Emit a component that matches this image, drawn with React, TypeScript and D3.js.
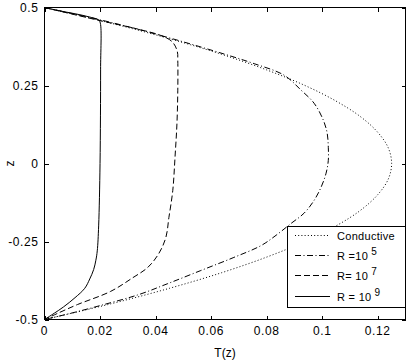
import React from "react";
import * as d3 from "d3";

const xTicks = [0, 0.02, 0.04, 0.06, 0.08, 0.1, 0.12];
const xTickLabels = ["0", "0.02", "0.04", "0.06", "0.08", "0.1", "0.12"];
const yTicks = [-0.5, -0.25, 0, 0.25, 0.5];
const yTickLabels = ["-0.5", "-0.25", "0", "0.25", "0.5"];

// Conductive profile (z, T)
const condZ = [0.5, 0.45, 0.4, 0.35, 0.3, 0.25, 0.2, 0.15, 0.1, 0.05, 0, -0.05, -0.1, -0.15, -0.2, -0.25, -0.3, -0.35, -0.4, -0.45, -0.5];
const condT = [0, 0.0238, 0.045, 0.0638, 0.08, 0.0938, 0.105, 0.1138, 0.12, 0.1238, 0.125, 0.1238, 0.12, 0.1138, 0.105, 0.0938, 0.08, 0.0638, 0.045, 0.0238, 0];

// R = 1e5
const r5Z = [0.5, 0.45, 0.4, 0.35, 0.32, 0.283, 0.235, 0.193, 0.139, 0.097, 0.052, 0.01, -0.031, -0.076, -0.118, -0.159, -0.192, -0.23, -0.263, -0.301, -0.343, -0.385, -0.42, -0.455, -0.48, -0.5];
const r5T = [0, 0.025, 0.046, 0.065, 0.0755, 0.0863, 0.0924, 0.0971, 0.1004, 0.1018, 0.1022, 0.1022, 0.1014, 0.0996, 0.0971, 0.0935, 0.0888, 0.0834, 0.078, 0.0682, 0.0563, 0.0444, 0.034, 0.0202, 0.0095, 0];

// R = 1e7
const r7Z = [0.5, 0.46, 0.43, 0.41, 0.39, 0.36, 0.33, 0.235, 0.129, 0.02, -0.086, -0.173, -0.237, -0.288, -0.333, -0.366, -0.41, -0.452, -0.48, -0.5];
const r7T = [0, 0.019, 0.034, 0.042, 0.046, 0.0478, 0.048, 0.048, 0.0477, 0.047, 0.0462, 0.0448, 0.0437, 0.0412, 0.0372, 0.0318, 0.0238, 0.0119, 0.0048, 0];

// R = 1e9
const r9Z = [0.5, 0.49, 0.48, 0.47, 0.46, 0.45, 0.3, 0, -0.2, -0.28, -0.31, -0.34, -0.37, -0.4, -0.43, -0.46, -0.48, -0.5];
const r9T = [0, 0.005, 0.011, 0.016, 0.0195, 0.0201, 0.0202, 0.02, 0.0195, 0.019, 0.0185, 0.0177, 0.0163, 0.0145, 0.011, 0.0068, 0.0035, 0];

const seriesNames = ["Conductive", "R =10", "R= 10", "R = 10"];
const seriesExps = ["", "5", "7", "9"];
const dashes = ["1,2.2", "6,2.5,1,2.5", "6,3", ""];

const W = 410, H = 364;
const L = 44.5, R = 405.5, T = 7.5, B = 319.5;
const font = "'Liberation Sans', Arial, Helvetica, sans-serif";

export default function App() {
  const x = d3.scaleLinear().domain([0, 0.13]).range([L, R]);
  const y = d3.scaleLinear().domain([-0.5, 0.5]).range([B, T]);
  const line = d3
    .line<[number, number]>()
    .x((d) => x(d[0]))
    .y((d) => y(d[1]))
    .curve(d3.curveCatmullRom.alpha(0.5));
  const series = [
    condZ.map((z, i) => [condT[i], z] as [number, number]),
    r5Z.map((z, i) => [r5T[i], z] as [number, number]),
    r7Z.map((z, i) => [r7T[i], z] as [number, number]),
    r9Z.map((z, i) => [r9T[i], z] as [number, number]),
  ];
  const lgL = 287.5, lgT = 226.5, lgR = R, lgB = 307.5;
  const rowY = [235.5, 255.5, 275.5, 296.5];
  return (
    <svg width={W} height={H} style={{ position: "absolute", left: 0, top: 0, background: "#fff" }} fontFamily={font}>
      <rect x={0} y={0} width={W} height={H} fill="#fff" />
      <defs>
        <clipPath id="plot">
          <rect x={L} y={T} width={R - L} height={B - T} />
        </clipPath>
      </defs>
      <g clipPath="url(#plot)">
        {series.map((s, i) => (
          <path key={i} d={line(s) || ""} fill="none" stroke="#000" strokeWidth={1} strokeDasharray={dashes[i] || undefined} />
        ))}
      </g>
      {/* axes box */}
      <rect x={L} y={T} width={R - L} height={B - T} fill="none" stroke="#000" strokeWidth={1} shapeRendering="crispEdges" />
      {xTicks.map((t, i) => (
        <g key={"x" + i}>
          <line x1={Math.round(x(t)) + 0.5} x2={Math.round(x(t)) + 0.5} y1={B} y2={B - 4} stroke="#000" shapeRendering="crispEdges" />
          <line x1={Math.round(x(t)) + 0.5} x2={Math.round(x(t)) + 0.5} y1={T} y2={T + 4} stroke="#000" shapeRendering="crispEdges" />
          <text x={x(t)} y={B + 15} fontSize={12} letterSpacing={0.6} textAnchor="middle">{xTickLabels[i]}</text>
        </g>
      ))}
      {yTicks.map((t, i) => (
        <g key={"y" + i}>
          <line x1={L} x2={L + 4} y1={Math.round(y(t)) + 0.5} y2={Math.round(y(t)) + 0.5} stroke="#000" shapeRendering="crispEdges" />
          <line x1={R} x2={R - 4} y1={Math.round(y(t)) + 0.5} y2={Math.round(y(t)) + 0.5} stroke="#000" shapeRendering="crispEdges" />
          <text x={L - 6} y={y(t) + 4} fontSize={12} letterSpacing={0.6} textAnchor="end">{yTickLabels[i]}</text>
        </g>
      ))}
      <text x={(L + R) / 2} y={357} fontSize={12} textAnchor="middle">T(z)</text>
      <text transform={`translate(14,${(T + B) / 2}) rotate(-90)`} fontSize={12} textAnchor="middle">z</text>
      {/* legend */}
      <rect x={lgL} y={lgT} width={lgR - lgL} height={lgB - lgT} fill="#fff" stroke="#000" strokeWidth={1} shapeRendering="crispEdges" />
      {seriesNames.map((n, i) => (
        <g key={"lg" + i}>
          <line x1={295} x2={330} y1={rowY[i]} y2={rowY[i]} stroke="#000" strokeDasharray={dashes[i] || undefined} />
          <text x={337} y={rowY[i] + 4} fontSize={11} letterSpacing={0.3}>
            {n}
            {seriesExps[i] ? (
              <tspan dx={3} dy={-5} fontSize={10}>{seriesExps[i]}</tspan>
            ) : null}
          </text>
        </g>
      ))}
    </svg>
  );
}
